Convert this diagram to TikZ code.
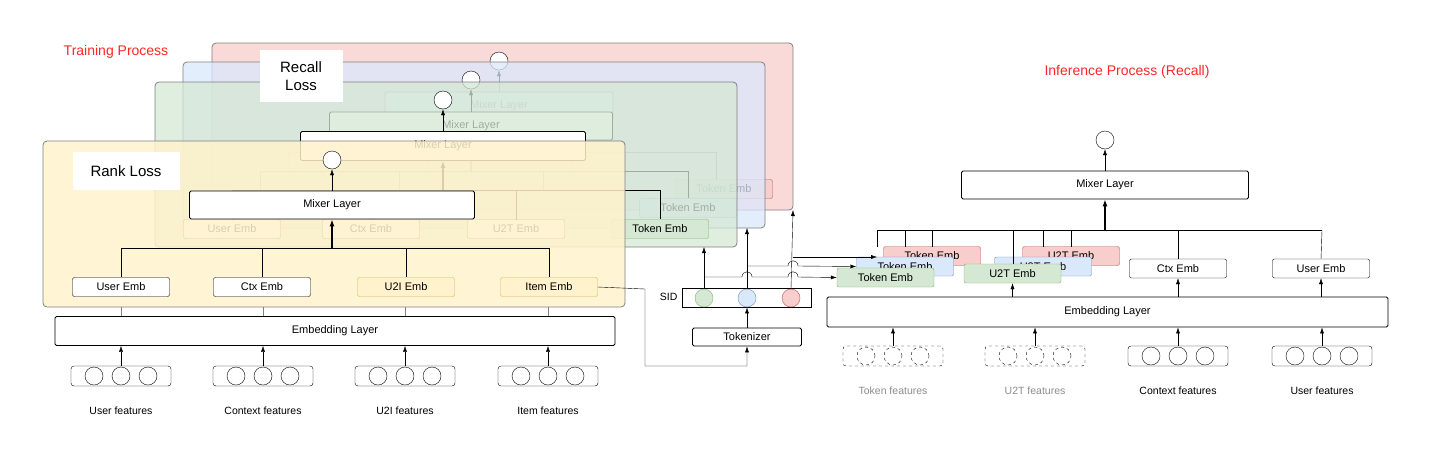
\documentclass[tikz,border=0pt]{standalone}
\usepackage{fontspec}
\setmainfont{Liberation Sans}
\usetikzlibrary{arrows.meta}
\definecolor{dyel}{RGB}{255,242,204}
\definecolor{dyeld}{RGB}{214,182,86}
\definecolor{dgrn}{RGB}{213,232,212}
\definecolor{dgrnd}{RGB}{130,179,102}
\definecolor{dblu}{RGB}{218,232,252}
\definecolor{dblud}{RGB}{108,142,191}
\definecolor{dred}{RGB}{248,206,204}
\definecolor{dredd}{RGB}{184,84,80}
\begin{document}
\begin{tikzpicture}[x=1pt,y=-1pt,
  every node/.style={font=\fontsize{11}{13}\selectfont},
  box/.style={draw,thick,fill=white,rounded corners=1.5pt},
  emb/.style={draw,fill=white,rounded corners=2pt,minimum width=97pt,minimum height=19pt,inner sep=0pt},
  gemb/.style={emb,draw=dgrnd,fill=dgrn},
  bemb/.style={emb,draw=dblud,fill=dblu},
  remb/.style={emb,draw=dredd,fill=dred},
  yemb/.style={emb,draw=dyeld,fill=dyel},
  outc/.style={draw,circle,fill=white,minimum size=18pt,inner sep=0pt},
  sid/.style={draw,circle,minimum size=18pt,inner sep=0pt},
  arr/.style={-{Latex[length=6pt,width=4pt]}},
  tarr/.style={-{Latex[length=7pt,width=5pt]},line width=1.2pt},
  panel/.style={draw=black!50,rounded corners=4pt,thick,fill opacity=0.75},
  feat/.style={draw,rounded corners=3pt,minimum width=100pt,minimum height=20pt},
  lbl/.style={font=\fontsize{10.5}{12}\selectfont}]
\useasboundingbox (0,0) rectangle (1431,448);
% ---- red layer
\draw[panel,fill=dred] (212,43) rectangle (793,210);
\node[outc] (ro) at (499,61) {};
\node[box,minimum width=228pt,minimum height=28pt] (rm) at (499,106) {Mixer Layer};
\draw (288,152) -- (716,152);
\foreach \x in {288,427,571} \draw (\x,152) -- (\x,170);
\draw[tarr] (499,152) -- (rm.south);
\draw[arr] (rm.north) -- (ro);
\node[remb] (rt) at (724,189) {Token Emb};
\draw (716,152) -- (716,180);
% ---- blue layer
\draw[panel,fill=dblu] (183,62) rectangle (765,228);
\node[outc] (bo) at (471,80) {};
\node[box,minimum width=283pt,minimum height=28pt] (bm) at (471,126) {Mixer Layer};
\draw (260,171) -- (688,171);
\foreach \x in {260,399,543} \draw (\x,171) -- (\x,190);
\draw[tarr] (471,171) -- (bm.south);
\draw[arr] (bm.north) -- (bo);
\node[bemb] (bt) at (688,208) {Token Emb};
\draw (688,171) -- (bt.north);
% ---- green layer
\draw[panel,fill=dgrn] (155,82) rectangle (737,247);
\node[outc] (go) at (443,100) {};
\node[box,minimum width=285pt,minimum height=29pt] (gm) at (443,146) {Mixer Layer};
\node[emb] (g1) at (232,229) {User Emb};
\node[emb] (g2) at (371,229) {Ctx Emb};
\node[emb] (g3) at (516,229) {U2T Emb};
\draw (232,190) -- (660,190);
\foreach \x in {232,371,516} \draw (\x,190) -- (\x,220);
\draw[tarr] (443,190) -- (gm.south);
\draw[arr] (gm.north) -- (go);
\node[gemb] (gt) at (660,229) {Token Emb};
\draw (660,190) -- (gt.north);
% ---- yellow layer
\draw[panel,fill=dyel,fill opacity=0.85] (43,141) rectangle (625,307);
\node[fill=white,minimum width=83pt,minimum height=52pt,align=center,font=\fontsize{15}{18}\selectfont] (rl) at (301,76) {Recall\\Loss};
\node[fill=white,minimum width=107pt,minimum height=38pt,font=\fontsize{15}{18}\selectfont] (rk) at (126,171) {Rank Loss};
\node[outc] (yo) at (332,160) {};
\node[box,minimum width=285pt,minimum height=28pt] (ym) at (332,205) {Mixer Layer};
\node[emb] (y1) at (121,287) {User Emb};
\node[emb] (y2) at (262,287) {Ctx Emb};
\node[yemb] (y3) at (406,287) {U2I Emb};
\node[yemb] (y4) at (549,287) {Item Emb};
\draw (121,248) -- (549,248);
\foreach \n/\x in {y1/121,y2/262,y3/406,y4/549} \draw (\x,248) -- (\n.north);
\draw[tarr] (332,248) -- (ym.south);
\draw[arr] (ym.north) -- (yo);
% ---- embedding + features (training)
\node[box,minimum width=560pt,minimum height=29pt] (el) at (335,331) {Embedding Layer};
\foreach \n/\x/\t in {1/121/User features,2/263/Context features,3/405/U2I features,4/548/Item features}{
  \node[feat] (f\n) at (\x,376) {};
  \foreach \d in {-27,0,27} \draw (\x+\d,376) circle (9pt);
  \node[lbl] at (\x,411) {\t};
  \draw[arr] (f\n.north) -- (f\n.north |- el.south);
  \draw[draw=black!50] (el.north -| f\n) -- ++(0,-9);
}
% ---- tokenizer & SID
\node[box,minimum width=109pt,minimum height=18pt] (tok) at (747,337) {Tokenizer};
\node[draw,thick,minimum width=129pt,minimum height=19pt] (sidb) at (747,297.5) {};
\node[lbl,anchor=east] at (681,297) {SID};
\node[sid,draw=dgrnd,fill=dgrn] (s1) at (704,298) {};
\node[sid,draw=dblud,fill=dblu] (s2) at (747,298) {};
\node[sid,draw=dredd,fill=dred] (s3) at (791,298) {};
\draw[arr] (y4.east) -- (645,289) -- (645,366) -- (747,366) -- (tok.south);
\draw[arr] (tok.north) -- (sidb.south);
\draw[arr] (s1.north) -- (704,247);
\draw[arr] (s2.north) -- (747,228);
\draw[arr] (s3.north) -- (793,210);
% ---- inference
\node[box,minimum width=287pt,minimum height=28pt] (im) at (1105,185) {Mixer Layer};
\node[outc] (io) at (1105,140) {};
\draw[arr] (im.north) -- (io);
\node[remb] (r1) at (932,256) {Token Emb};
\node[remb] (r2) at (1071,256) {U2T Emb};
\node[bemb] (b1) at (905,266.5) {Token Emb};
\node[bemb] (b2) at (1043,266.5) {U2T Emb};
\node[emb] (c1) at (1178,268.5) {Ctx Emb};
\node[emb] (u1) at (1321,268.5) {User Emb};
\draw (877,230) -- (1322,230);
\draw[tarr] (1105,230) -- (im.south);
\foreach \x in {877,905,932,1043,1071} \draw (\x,230) -- (\x,247);
\draw (1013,230) -- (1013,264);
\draw (1178,230) -- (c1.north);
\draw (1322,230) -- (u1.north);
\node[gemb] (g1r) at (885.5,277.5) {Token Emb};
\node[gemb] (g2r) at (1012.5,273.5) {U2T Emb};
\node[box,minimum width=561pt,minimum height=30pt] (iel) at (1107.5,312) {Embedding Layer};
\draw[arr] (iel.north -| g2r) -- (g2r.south);
\draw[arr] (iel.north -| c1) -- (c1.south);
\draw[arr] (iel.north -| u1) -- (u1.south);
\foreach \n/\x/\s in {a/893/dashed,b/1035/dashed,c/1178/solid,d/1322/solid}{
  \node[feat,\s] (i\n) at (\x,356) {};
  \foreach \d in {-27,0,27} \draw[\s] (\x+\d,356) circle (9pt);
  \draw[arr] (i\n.north) -- (i\n.north |- iel.south);
}
\node[lbl,text=black!45] at (893,391) {Token features};
\node[lbl,text=black!45] at (1035,391) {U2T features};
\node[lbl] at (1178,391) {Context features};
\node[lbl] at (1322,391) {User features};
% ---- SID to inference lines with bridges
\draw[arr] (704,277) -- (742,277) .. controls (742,270) and (752,270) .. (752,277) -- (788,277) .. controls (788,270) and (798,270) .. (798,277) -- (g1r.west);
\draw[arr] (747,266) -- (788,266) .. controls (788,259) and (798,259) .. (798,266) -- (b1.west);
\draw[arr] (793,257) -- (877,257);
% titles
\node[text=red!85,font=\fontsize{14}{16}\selectfont] at (116,52) {Training Process};
\node[text=red!85,font=\fontsize{14}{16}\selectfont] at (1127,72) {Inference Process (Recall)};
\end{tikzpicture}
\end{document}
